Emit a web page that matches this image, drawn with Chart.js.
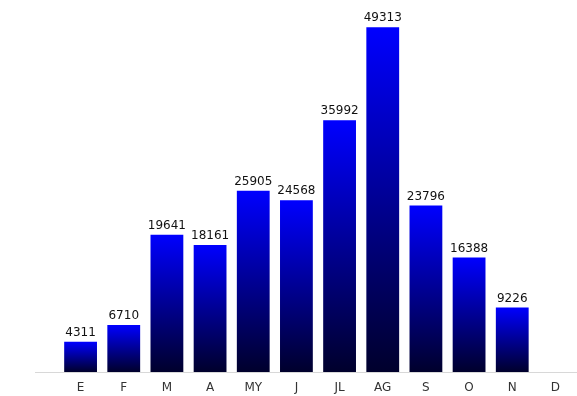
<!DOCTYPE html>
<html>
<head>
<meta charset="utf-8">
<script src="https://cdn.jsdelivr.net/npm/chart.js@4"></script>
<style>
  html, body { margin: 0; padding: 0; background: #fff; }
  #wrap { width: 577px; height: 396px; }
</style>
</head>
<body>
<div id="wrap"><canvas id="barChart" width="577" height="396"></canvas></div>
<script>
// Monthly values (D has no bar)
const months = ['E', 'F', 'M', 'A', 'MY', 'J', 'JL', 'AG', 'S', 'O', 'N', 'D'];
const values = [4311, 6710, 19641, 18161, 25905, 24568, 35992, 49313, 23796, 16388, 9226, null];

// per-bar vertical gradient, bright at top and dark at the base
function barFill(c) {
    const chart = c.chart;
    if (!chart.chartArea || c.raw == null) return '#0000ff';
    const y = chart.scales.y;
    const top = y.getPixelForValue(c.raw);
    const bottom = y.getPixelForValue(0);
    const g = chart.ctx.createLinearGradient(0, top, 0, bottom);
    g.addColorStop(0, '#0000ff');
    g.addColorStop(0.5, '#000094');
    g.addColorStop(1, '#00002c');
    return g;
}

// value labels above the bars + baseline extending to the left
const extras = {
    id: 'extras',
    afterDatasetsDraw(chart) {
        const ctx = chart.ctx;
        const area = chart.chartArea;
        ctx.save();
        ctx.strokeStyle = '#d8d8d8';
        ctx.lineWidth = 1;
        ctx.beginPath();
        ctx.moveTo(35, Math.round(area.bottom) + 0.5);
        ctx.lineTo(577, Math.round(area.bottom) + 0.5);
        ctx.stroke();

        ctx.fillStyle = '#111';
        ctx.font = '12px "DejaVu Sans"';
        ctx.textAlign = 'center';
        ctx.textBaseline = 'bottom';
        chart.getDatasetMeta(0).data.forEach((bar, i) => {
            if (values[i] == null) return;
            ctx.fillText(String(values[i]), bar.x, bar.y - 3);
        });
        ctx.restore();
    }
};

const ctx = document.getElementById('barChart').getContext('2d');
const barChart = new Chart(ctx, {
    type: 'bar',
    data: {
        labels: months,
        datasets: [{
            data: values,
            backgroundColor: barFill,
            borderWidth: 0,
            barPercentage: 0.76,
            categoryPercentage: 1
        }]
    },
    options: {
        responsive: false,
        animation: false,
        layout: { padding: { left: 59, right: 0, top: 0, bottom: 2 } },
        plugins: {
            legend: { display: false },
            tooltip: { enabled: false }
        },
        scales: {
            x: {
                grid: { display: false },
                border: { display: false },
                afterFit: (scale) => { scale.height = 22; },
                ticks: {
                    color: '#333',
                    padding: 1,
                    font: { family: 'DejaVu Sans', size: 12 }
                }
            },
            y: {
                display: false,
                min: 0,
                max: 53200
            }
        }
    },
    plugins: [extras]
});
</script>
</body>
</html>
